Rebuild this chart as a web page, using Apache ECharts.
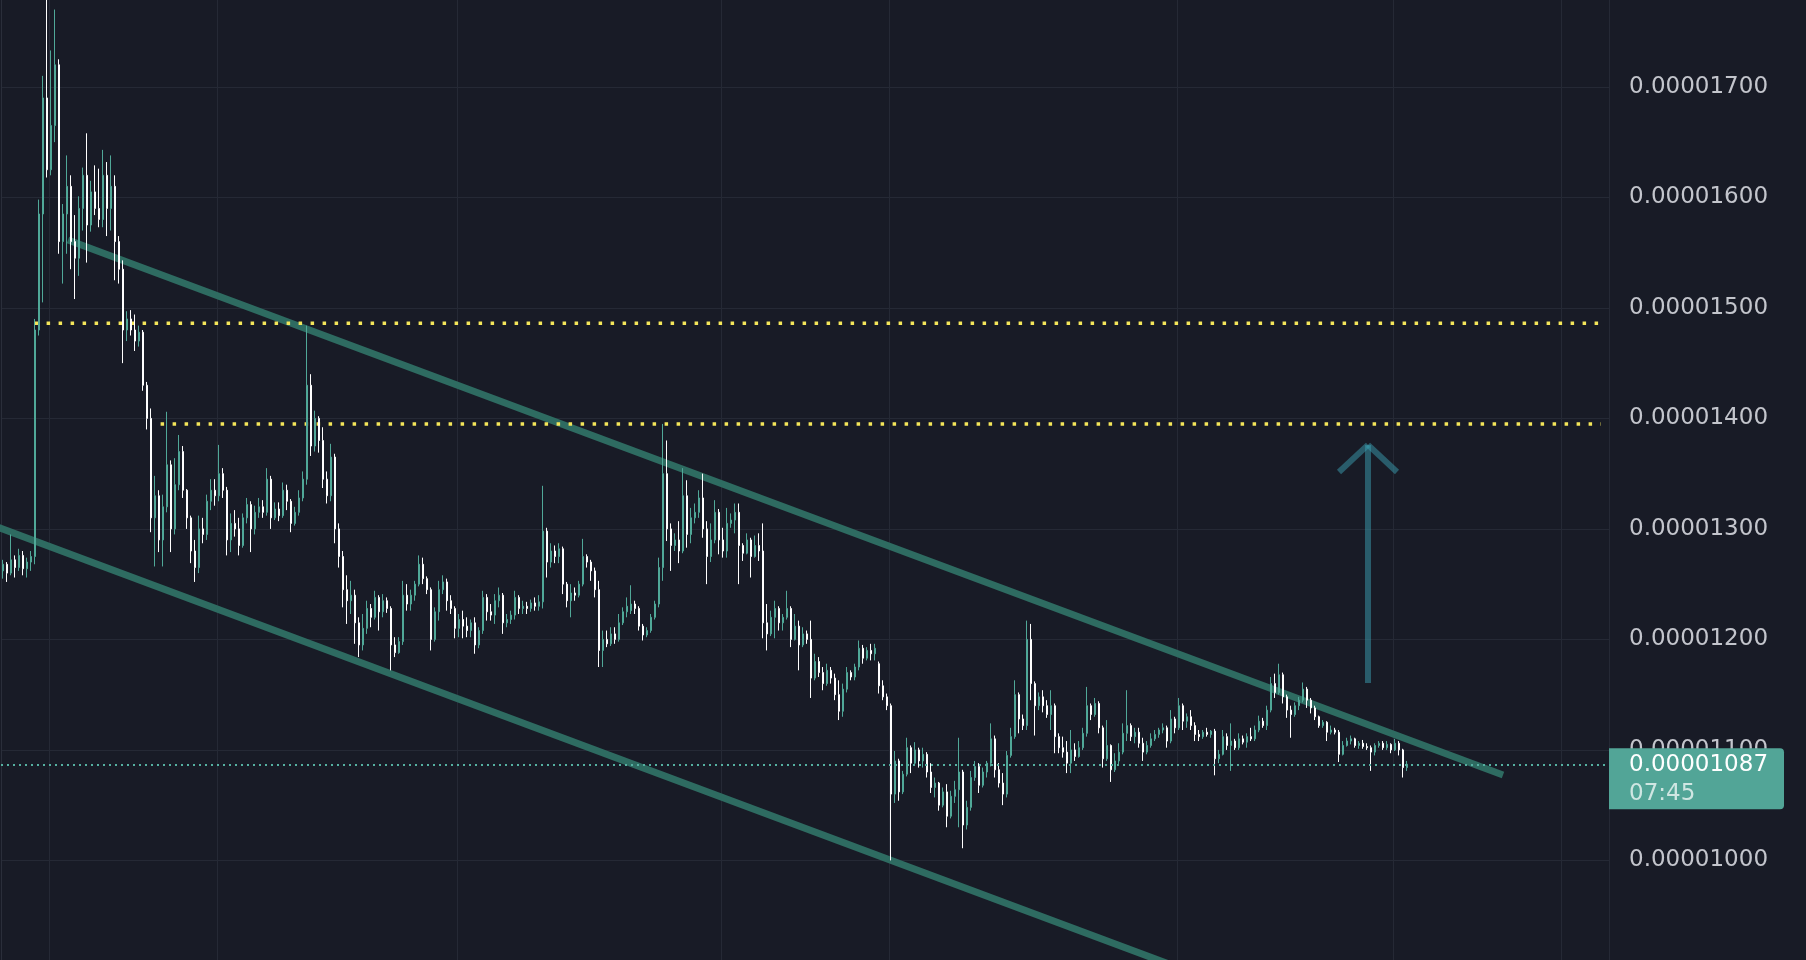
<!DOCTYPE html>
<html>
<head>
<meta charset="utf-8">
<title>Price chart</title>
<script src="https://cdn.jsdelivr.net/npm/echarts@6.0.0/dist/echarts.min.js"></script>
<style>
  html, body { margin: 0; padding: 0; background: #181b26; }
  #chart { width: 1806px; height: 960px; }
</style>
</head>
<body>
<div id="chart"></div>
<script>
// Prices are stored in units of 1e-8 (1087 -> 0.00001087).
// Each bar: [open, close, low, high]
const CANDLES = [
  [1262,1268,1255,1272],[1268,1260,1252,1270],[1260,1272,1258,1295],[1272,1265,1256,1276],
  [1265,1276,1262,1282],[1276,1264,1258,1280],[1264,1270,1256,1274],[1270,1275,1262,1280],
  [1275,1480,1268,1490],[1480,1585,1475,1598],[1585,1690,1505,1710],[1690,1625,1618,1790],
  [1625,1665,1620,1733],[1665,1720,1650,1770],[1720,1560,1549,1725],[1560,1585,1522,1594],
  [1585,1610,1549,1638],[1610,1560,1535,1620],[1560,1545,1508,1584],[1545,1590,1529,1601],
  [1590,1620,1570,1627],[1620,1575,1541,1658],[1575,1605,1569,1615],[1605,1590,1584,1629],
  [1590,1580,1573,1626],[1580,1620,1573,1643],[1620,1590,1565,1632],[1590,1610,1570,1638],
  [1610,1560,1525,1620],[1560,1535,1522,1565],[1535,1480,1450,1543],[1480,1490,1470,1497],
  [1490,1480,1475,1498],[1480,1470,1461,1494],[1470,1478,1465,1484],[1478,1430,1425,1480],
  [1430,1400,1390,1433],[1400,1310,1297,1409],[1310,1330,1266,1348],[1330,1290,1279,1335],
  [1290,1320,1266,1331],[1320,1358,1315,1406],[1358,1300,1279,1362],[1300,1340,1295,1364],
  [1340,1370,1335,1385],[1370,1335,1328,1375],[1335,1310,1300,1336],[1310,1280,1269,1312],
  [1280,1265,1252,1290],[1265,1300,1260,1312],[1300,1295,1287,1310],[1295,1325,1290,1331],
  [1325,1335,1317,1345],[1335,1330,1321,1345],[1330,1350,1325,1376],[1350,1335,1328,1355],
  [1335,1290,1276,1338],[1290,1305,1279,1314],[1305,1300,1293,1317],[1300,1285,1276,1310],
  [1285,1310,1283,1314],[1310,1322,1305,1328],[1322,1300,1279,1325],[1300,1315,1295,1321],
  [1315,1320,1310,1328],[1320,1315,1310,1326],[1315,1345,1312,1355],[1345,1310,1300,1348],
  [1310,1318,1308,1324],[1318,1312,1307,1324],[1312,1335,1310,1342],[1335,1325,1317,1340],
  [1325,1305,1297,1327],[1305,1315,1303,1320],[1315,1328,1312,1335],[1328,1345,1325,1352],
  [1345,1430,1340,1484],[1430,1375,1366,1440],[1375,1400,1370,1407],[1400,1380,1369,1402],
  [1380,1345,1337,1392],[1345,1330,1323,1352],[1330,1365,1325,1377],[1365,1300,1287,1368],
  [1300,1275,1265,1305],[1275,1245,1229,1280],[1245,1235,1214,1258],[1235,1240,1223,1253],
  [1240,1215,1196,1245],[1215,1195,1184,1220],[1195,1210,1190,1223],[1210,1228,1205,1235],
  [1228,1220,1211,1232],[1220,1238,1218,1244],[1238,1225,1208,1240],[1225,1235,1220,1241],
  [1235,1228,1224,1238],[1228,1195,1172,1230],[1195,1188,1184,1202],[1188,1198,1187,1202],
  [1198,1240,1195,1253],[1240,1232,1226,1250],[1232,1240,1226,1245],[1240,1250,1235,1253],
  [1250,1268,1248,1276],[1268,1255,1250,1274],[1255,1245,1241,1257],[1245,1200,1190,1247],
  [1200,1225,1198,1229],[1225,1245,1217,1253],[1245,1252,1241,1258],[1252,1235,1226,1255],
  [1235,1228,1223,1240],[1228,1210,1201,1230],[1210,1218,1202,1223],[1218,1212,1201,1226],
  [1212,1208,1202,1220],[1208,1215,1202,1218],[1215,1195,1187,1220],[1195,1208,1192,1211],
  [1208,1238,1205,1244],[1238,1225,1217,1241],[1225,1222,1217,1232],[1222,1235,1214,1241],
  [1235,1240,1229,1247],[1240,1215,1205,1242],[1215,1218,1211,1223],[1218,1222,1214,1226],
  [1222,1238,1218,1244],[1238,1228,1223,1240],[1228,1230,1223,1235],[1230,1228,1223,1234],
  [1228,1233,1225,1236],[1233,1230,1226,1238],[1230,1234,1226,1240],[1234,1298,1228,1339],
  [1298,1270,1256,1301],[1270,1280,1265,1287],[1280,1275,1269,1285],[1275,1282,1269,1287],
  [1282,1250,1241,1284],[1250,1235,1229,1252],[1235,1242,1220,1250],[1242,1240,1235,1247],
  [1240,1250,1238,1253],[1250,1275,1248,1291],[1275,1270,1265,1277],[1270,1262,1253,1272],
  [1262,1245,1238,1265],[1245,1190,1175,1253],[1190,1200,1175,1208],[1200,1196,1193,1208],
  [1196,1205,1194,1211],[1205,1200,1196,1211],[1200,1215,1198,1223],[1215,1225,1213,1229],
  [1225,1230,1220,1238],[1226,1232,1223,1249],[1232,1228,1223,1235],[1228,1212,1208,1230],
  [1212,1204,1199,1214],[1204,1208,1202,1211],[1208,1220,1206,1223],[1220,1232,1218,1235],
  [1232,1265,1229,1274],[1265,1350,1253,1395],[1350,1300,1289,1380],[1300,1285,1262,1305],
  [1285,1290,1280,1296],[1290,1280,1269,1307],[1280,1330,1278,1355],[1330,1295,1283,1344],
  [1295,1310,1287,1319],[1310,1315,1305,1323],[1315,1328,1310,1335],[1328,1300,1292,1350],
  [1300,1275,1250,1307],[1275,1290,1270,1305],[1290,1315,1287,1326],[1315,1290,1277,1318],
  [1290,1280,1274,1301],[1280,1305,1274,1319],[1305,1308,1301,1314],[1308,1315,1296,1323],
  [1315,1285,1250,1323],[1285,1278,1271,1287],[1278,1290,1277,1296],[1290,1275,1256,1292],
  [1275,1285,1274,1294],[1285,1280,1271,1296],[1280,1215,1201,1305],[1215,1205,1190,1232],
  [1205,1220,1203,1226],[1220,1228,1201,1235],[1228,1215,1208,1230],[1215,1220,1208,1223],
  [1220,1228,1218,1244],[1228,1200,1193,1230],[1200,1212,1199,1223],[1212,1195,1172,1217],
  [1195,1205,1193,1211],[1205,1200,1196,1208],[1200,1165,1147,1217],[1165,1180,1163,1187],
  [1180,1170,1166,1184],[1170,1160,1154,1175],[1160,1172,1158,1178],[1172,1165,1160,1175],
  [1165,1150,1145,1169],[1150,1135,1127,1163],[1135,1155,1130,1160],[1155,1170,1152,1175],
  [1170,1166,1163,1172],[1166,1175,1163,1178],[1175,1192,1172,1199],[1192,1183,1178,1195],
  [1183,1190,1181,1193],[1190,1187,1181,1196],[1187,1192,1181,1196],[1178,1158,1151,1180],
  [1158,1148,1145,1163],[1148,1140,1136,1151],[1140,1060,1000,1142],[1060,1090,1052,1099],
  [1090,1062,1054,1092],[1062,1078,1060,1081],[1078,1102,1076,1111],[1102,1088,1079,1104],
  [1088,1100,1086,1107],[1100,1090,1084,1102],[1090,1096,1084,1102],[1096,1080,1075,1098],
  [1080,1066,1061,1088],[1066,1070,1057,1075],[1070,1050,1045,1071],[1050,1062,1048,1066],
  [1062,1040,1030,1069],[1040,1058,1038,1063],[1058,1064,1052,1072],[1064,1080,1030,1111],
  [1080,1032,1011,1082],[1032,1048,1028,1054],[1048,1075,1045,1081],[1075,1085,1072,1090],
  [1085,1068,1061,1088],[1068,1080,1066,1084],[1080,1088,1075,1090],[1088,1110,1085,1124],
  [1110,1082,1075,1113],[1082,1070,1066,1088],[1070,1060,1050,1079],[1060,1095,1057,1099],
  [1095,1112,1093,1120],[1112,1150,1110,1163],[1150,1128,1115,1152],[1128,1122,1118,1132],
  [1122,1200,1118,1217],[1200,1160,1145,1214],[1160,1140,1113,1162],[1140,1148,1136,1152],
  [1148,1140,1134,1154],[1140,1132,1129,1145],[1132,1140,1118,1154],[1140,1112,1097,1142],
  [1112,1102,1097,1115],[1102,1098,1093,1112],[1098,1088,1079,1108],[1088,1100,1079,1118],
  [1100,1094,1090,1106],[1094,1102,1093,1108],[1102,1115,1100,1120],[1115,1140,1112,1157],
  [1140,1132,1127,1142],[1132,1142,1130,1147],[1142,1120,1115,1144],[1120,1092,1084,1122],
  [1092,1104,1090,1127],[1104,1082,1071,1105],[1082,1090,1080,1097],[1090,1098,1086,1106],
  [1098,1115,1096,1124],[1115,1122,1108,1154],[1122,1112,1108,1124],[1112,1116,1106,1120],
  [1116,1106,1102,1120],[1106,1098,1090,1111],[1098,1104,1096,1108],[1104,1110,1102,1115],
  [1110,1114,1108,1118],[1114,1118,1111,1120],[1118,1120,1115,1124],[1120,1108,1102,1122],
  [1108,1128,1106,1136],[1128,1120,1115,1130],[1120,1140,1118,1147],[1140,1126,1118,1142],
  [1126,1130,1120,1133],[1130,1122,1118,1136],[1122,1114,1108,1125],[1114,1112,1108,1118],
  [1112,1116,1110,1118],[1116,1114,1112,1120],[1114,1117,1111,1118],[1117,1092,1077,1119],
  [1092,1096,1088,1100],[1096,1112,1095,1118],[1112,1104,1100,1115],[1104,1108,1081,1124],
  [1108,1102,1100,1110],[1102,1110,1100,1115],[1110,1107,1105,1113],[1107,1112,1102,1115],
  [1112,1110,1108,1120],[1110,1118,1108,1122],[1118,1126,1116,1131],[1126,1122,1120,1129],
  [1122,1136,1118,1140],[1136,1160,1134,1166],[1160,1152,1147,1169],[1152,1168,1150,1178],
  [1168,1148,1142,1170],[1148,1136,1129,1150],[1136,1132,1111,1140],[1132,1140,1130,1143],
  [1140,1145,1136,1148],[1145,1155,1143,1161],[1155,1145,1138,1157],[1145,1138,1133,1147],
  [1138,1130,1127,1140],[1130,1122,1120,1131],[1122,1125,1120,1127],[1125,1116,1108,1126],
  [1116,1118,1114,1122],[1118,1116,1114,1120],[1116,1096,1089,1118],[1096,1104,1095,1108],
  [1104,1108,1103,1111],[1108,1110,1105,1113],[1110,1104,1102,1111],[1104,1106,1101,1108],
  [1106,1103,1101,1109],[1103,1102,1100,1106],[1102,1098,1081,1104],[1098,1104,1095,1106],
  [1104,1106,1102,1108],[1106,1102,1100,1108],[1102,1105,1100,1108],[1105,1100,1097,1106],
  [1100,1106,1099,1110],[1106,1100,1095,1108],[1100,1084,1075,1101],[1084,1087,1081,1090]
];

// Empty time slots kept to the right of the last bar
const RIGHT_PAD = 50;
// Slots where a new time period starts (vertical grid lines)
const TIME_GRID_SLOTS = [12, 54, 114, 180, 222, 294, 348, 390];
const BAR_COUNTDOWN = '07:45';

// Drawings, in [slot position, price] coordinates
const UPPER_TREND = [[16.75, 1561.4], [375.5, 1077.3]];
const LOWER_TREND = [[-1.25, 1302.2], [294.75, 902.5]];
const RESISTANCE_PRICES = [1486, 1395];
const RESISTANCE_FROM = [8.4, 39.9];
const RESISTANCE_TO = 400;
const ARROW_SHAFT = [[341.75, 1160.5], [341.75, 1376]];
const ARROW_LEFT_BARB = [[334.5, 1351.5], [341.75, 1376]];
const ARROW_RIGHT_BARB = [[349, 1351.5], [341.75, 1376]];

const PRICE_MIN = 900, PRICE_MAX = 1800, PRICE_STEP = 100;

const LAST_CLOSE = CANDLES[CANDLES.length - 1][1];
const SLOT_COUNT = CANDLES.length + RIGHT_PAD;
const SLOTS = Array.from({ length: SLOT_COUNT }, (_, i) => String(i));
const fmtPrice = v => (v / 1e8).toFixed(8);

const UP = '#50a898', DOWN = '#ffffff';
const GRID_COLOR = '#252935';
const FONT = '"DejaVu Sans", "Noto Sans", sans-serif';

const drawing = (data, color, width, extra) => Object.assign({
  type: 'line', xAxisIndex: 1, yAxisIndex: 0, data,
  showSymbol: false, symbol: 'none', silent: true, z: 2,
  lineStyle: { color, width, cap: 'butt' }
}, extra || {});

const series = [
  drawing(UPPER_TREND, '#2e6b61', 7),
  drawing(LOWER_TREND, '#2e6b61', 7),
  ...RESISTANCE_PRICES.map((p, k) => drawing(
    [[RESISTANCE_FROM[k], p], [RESISTANCE_TO, p]], '#f4e65a', 3.5,
    { lineStyle: { color: '#f4e65a', width: 3.5, type: [3.5, 8.5], cap: 'butt' } })),
  drawing(ARROW_SHAFT, 'rgba(57,157,176,0.5)', 6),
  drawing(ARROW_LEFT_BARB, 'rgba(57,157,176,0.5)', 6),
  drawing(ARROW_RIGHT_BARB, 'rgba(57,157,176,0.5)', 6),
  {
    type: 'candlestick', xAxisIndex: 0, yAxisIndex: 0, z: 5,
    data: CANDLES, barWidth: 2,
    itemStyle: { color: UP, color0: DOWN, borderColor: UP, borderColor0: DOWN, borderWidth: 1 },
    markLine: {
      symbol: 'none', silent: true, animation: false, z: 6,
      lineStyle: { color: '#55b0a1', type: [2, 4], width: 2 },
      label: {
        show: true, position: 'end', distance: 0,
        formatter: () => `{p|${fmtPrice(LAST_CLOSE)}}\n{t|${BAR_COUNTDOWN}}`,
        backgroundColor: '#52a597', borderRadius: [0, 4, 4, 0],
        padding: [2, 12, 1, 20], width: 143, align: 'left',
        offset: [0, 14.5],
        rich: {
          p: { color: '#ffffff', fontSize: 23, lineHeight: 29, fontFamily: FONT },
          t: { color: 'rgba(255,255,255,0.72)', fontSize: 23, lineHeight: 29, fontFamily: FONT }
        }
      },
      data: [{ yAxis: LAST_CLOSE }]
    }
  }
];

const chart = echarts.init(document.getElementById('chart'), null, { renderer: 'canvas' });
chart.setOption({
  animation: false,
  backgroundColor: '#181b26',
  grid: { left: 1, width: 1608, top: -23.6, height: 994.5, containLabel: false, outerBoundsMode: 'none' },
  xAxis: [
    {
      type: 'category', data: SLOTS, boundaryGap: true,
      axisLine: { show: false }, axisTick: { show: false }, axisLabel: { show: false },
      splitLine: { show: true, interval: (i) => TIME_GRID_SLOTS.includes(i),
                   lineStyle: { color: GRID_COLOR, width: 1 } }
    },
    { type: 'value', min: 0, max: SLOT_COUNT, show: false }
  ],
  yAxis: {
    type: 'value', position: 'right', min: PRICE_MIN, max: PRICE_MAX, interval: PRICE_STEP,
    axisLine: { show: true, lineStyle: { color: '#2a2e3a', width: 1 } },
    axisTick: { show: false },
    axisLabel: { margin: 20, color: '#c3c5cc', fontSize: 23, fontFamily: FONT, formatter: fmtPrice },
    splitLine: { show: true, lineStyle: { color: GRID_COLOR, width: 1 } }
  },
  series
});
</script>
</body>
</html>
